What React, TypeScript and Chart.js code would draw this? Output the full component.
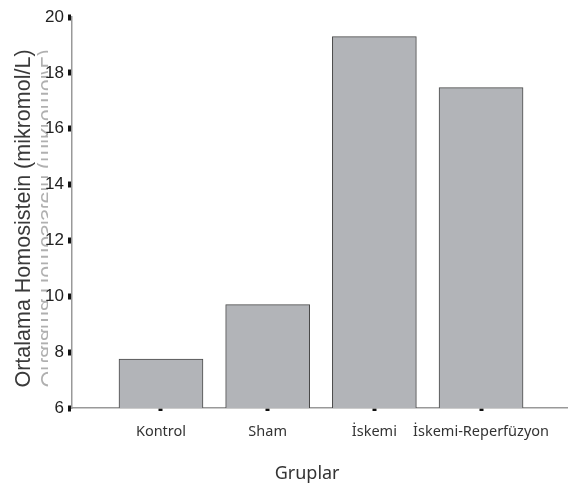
import React, { useEffect, useRef } from "react";
import { Chart, registerables } from "chart.js";

Chart.register(...registerables);

const categories = ["Kontrol", "Sham", "İskemi", "İskemi-Reperfüzyon"];
const values = [7.75, 9.7, 19.3, 17.47];
const yTicks = [6, 8, 10, 12, 14, 16, 18, 20];
const yTitle = "Ortalama Homosistein (mikromol/L)";
const xTitle = "Gruplar";

const titlesPlugin = {
  id: "titles",
  afterDraw(chart: any) {
    const ctx = chart.ctx;
    const area = chart.chartArea;
    const cy = (area.top + area.bottom) / 2 + 6;
    ctx.save();
    ctx.font = '21.5px "Liberation Sans", Arial, sans-serif';
    ctx.fillStyle = "#3a3a3a";
    ctx.textAlign = "center";
    ctx.textBaseline = "alphabetic";
    // ghost mirrored copy (clipped)
    ctx.save();
    ctx.beginPath();
    ctx.rect(37, 0, 11, chart.height);
    ctx.clip();
    ctx.globalAlpha = 0.4;
    ctx.translate(35, cy);
    ctx.scale(-1, 1);
    ctx.rotate(-Math.PI / 2);
    ctx.fillText(yTitle, 0, -6);
    ctx.restore();
    // main title
    ctx.save();
    ctx.translate(30, cy);
    ctx.rotate(-Math.PI / 2);
    ctx.fillText(yTitle, 0, 0);
    ctx.restore();
    // x title
    ctx.font = '18px "Noto Sans", sans-serif';
    ctx.fillStyle = "#333";
    ctx.textBaseline = "middle";
    ctx.fillText(xTitle, area.left + (area.right - area.left) * 0.474, 474);
    ctx.restore();
  },
};

export default function App() {
  const ref = useRef<HTMLCanvasElement | null>(null);
  useEffect(() => {
    if (!ref.current) return;
    const chart = new Chart(ref.current, {
      type: "bar",
      data: {
        datasets: [
          {
            data: values.map((v, i) => ({ x: i, y: v })),
            backgroundColor: "#b2b4b8",
            borderColor: "#4a4a4a",
            borderWidth: 1,
            barThickness: 84,
          },
        ],
      },
      options: {
        animation: false,
        responsive: false,
        maintainAspectRatio: false,
        layout: { padding: { top: 17, right: 0, left: 0, bottom: 0 } },
        plugins: { legend: { display: false }, tooltip: { enabled: false } },
        scales: {
          x: {
            type: "linear",
            offset: false,
            min: -0.834,
            max: 3.815,
            afterBuildTicks: (s: any) => {
              s.ticks = categories.map((_, i) => ({ value: i }));
            },
            afterFit: (s: any) => {
              s.height = 78;
              s.paddingLeft = 0;
              s.paddingRight = 0;
            },
            ticks: {
              autoSkip: false,
              maxRotation: 0,
              padding: 12,
              color: "#333",
              font: { family: '"Noto Sans", sans-serif', size: 14.5 },
              callback: (v: any) => categories[v] ?? "",
            },
            grid: {
              offset: false,
              drawOnChartArea: false,
              tickLength: 3,
              tickWidth: 4,
              tickColor: "#111",
            },
            border: { color: "#999", width: 1.5 },
          },
          y: {
            min: 6,
            max: 20,
            afterBuildTicks: (s: any) => {
              s.ticks = yTicks.map((v) => ({ value: v }));
            },
            afterFit: (s: any) => {
              s.width = 72;
            },
            ticks: {
              padding: 4,
              color: "#222",
              font: { family: '"Liberation Sans", Arial, sans-serif', size: 17 },
            },
            grid: {
              drawOnChartArea: false,
              tickLength: 4,
              tickWidth: 6,
              tickColor: "#111",
            },
            border: { color: "#999", width: 1.5 },
          },
        },
      },
      plugins: [titlesPlugin],
    });
    return () => chart.destroy();
  }, []);
  return (
    <div style={{ position: "fixed", left: 0, top: 0, width: 568, height: 486, background: "#fff" }}>
      <canvas ref={ref} width={568} height={486} style={{ width: 568, height: 486 }} />
    </div>
  );
}
